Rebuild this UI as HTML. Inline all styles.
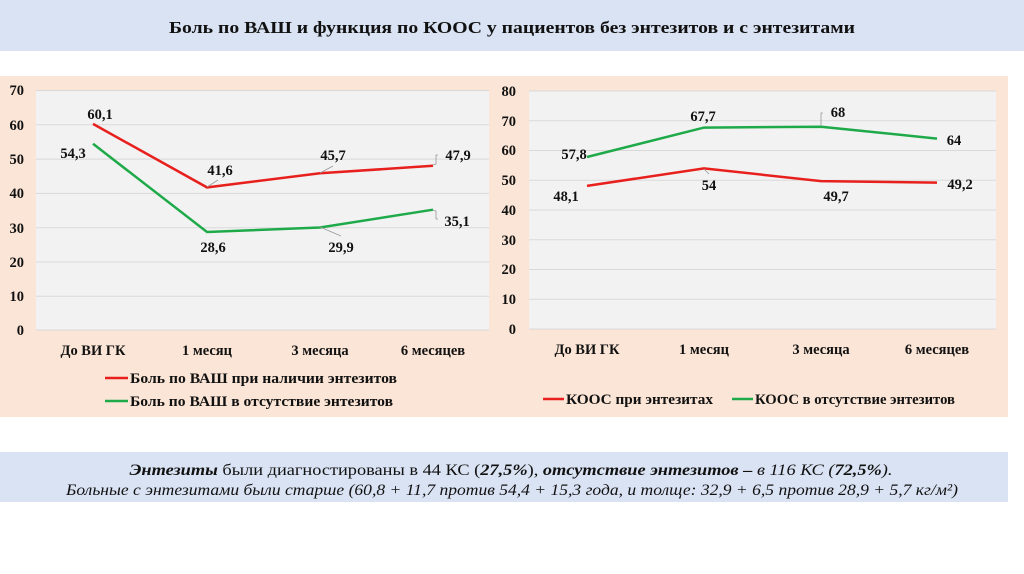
<!DOCTYPE html>
<html><head><meta charset="utf-8"><style>
html,body{margin:0;padding:0;background:#fff;}
svg{display:block;}
text{font-family:"Liberation Serif","Noto Serif CJK SC",serif;font-weight:bold;font-size:14.5px;fill:#111;}
.it{font-style:italic;font-weight:normal;font-size:16px;}
</style></head><body>
<svg width="1024" height="574" viewBox="0 0 1024 574" xmlns="http://www.w3.org/2000/svg">
<rect x="0" y="0" width="1024" height="51" fill="#dae3f3"/>
<text x="512" y="33" text-anchor="middle" style="font-size:17px" textLength="686" lengthAdjust="spacingAndGlyphs">Боль по ВАШ и функция по КООС у пациентов без энтезитов и с энтезитами</text>

<rect x="0" y="76" width="1008" height="341" fill="#fbe5d6"/>
<!-- left plot -->
<rect x="36" y="90" width="453" height="240" fill="#f2f2f2"/>
<g stroke="#d9d9d9" stroke-width="1">
<line x1="36" x2="489" y1="90.5" y2="90.5"/><line x1="36" x2="489" y1="124.8" y2="124.8"/><line x1="36" x2="489" y1="159.1" y2="159.1"/><line x1="36" x2="489" y1="193.4" y2="193.4"/><line x1="36" x2="489" y1="227.7" y2="227.7"/><line x1="36" x2="489" y1="262" y2="262"/><line x1="36" x2="489" y1="296.3" y2="296.3"/><line x1="36" x2="489" y1="330" y2="330"/>
</g>
<g text-anchor="end">
<text x="24" y="95">70</text><text x="24" y="130">60</text><text x="24" y="164">50</text><text x="24" y="198">40</text><text x="24" y="233">30</text><text x="24" y="267">20</text><text x="24" y="301">10</text><text x="24" y="335">0</text>
</g>
<polyline points="93,123.9 207,187.4 320,173.3 433,165.8" fill="none" stroke="#e8201d" stroke-width="2.5"/>
<polyline points="93,143.8 207,232 320,227.5 433,209.7" fill="none" stroke="#1faa4a" stroke-width="2.5"/>
<g stroke="#999" stroke-width="0.8" fill="none">
<polyline points="207,187 218,180"/><polyline points="320,173 333,166"/><polyline points="433,165 436,164 436,155 438,155"/><polyline points="433,210 436,211 436,219 438,219"/><polyline points="320,227 341,236"/>
</g>
<g text-anchor="middle">
<text x="100" y="119">60,1</text><text x="73" y="158">54,3</text><text x="220" y="175">41,6</text><text x="333" y="160">45,7</text><text x="458" y="160">47,9</text><text x="457" y="226">35,1</text><text x="213" y="252">28,6</text><text x="341" y="252">29,9</text>
<text x="93" y="355" textLength="65" lengthAdjust="spacingAndGlyphs">До ВИ ГК</text><text x="207" y="355">1 месяц</text><text x="320" y="355">3 месяца</text><text x="433" y="355">6 месяцев</text>
</g>
<line x1="105" x2="128" y1="378" y2="378" stroke="#e8201d" stroke-width="2.5"/>
<text x="130" y="383" textLength="267" lengthAdjust="spacingAndGlyphs">Боль по ВАШ при наличии энтезитов</text>
<line x1="105" x2="128" y1="401" y2="401" stroke="#1faa4a" stroke-width="2.5"/>
<text x="130" y="406" textLength="263" lengthAdjust="spacingAndGlyphs">Боль по ВАШ в отсутствие энтезитов</text>

<!-- right plot -->
<rect x="529" y="91" width="467" height="238" fill="#f2f2f2"/>
<g stroke="#d9d9d9" stroke-width="1">
<line x1="529" x2="996" y1="91" y2="91"/><line x1="529" x2="996" y1="120.8" y2="120.8"/><line x1="529" x2="996" y1="150.5" y2="150.5"/><line x1="529" x2="996" y1="180.3" y2="180.3"/><line x1="529" x2="996" y1="210" y2="210"/><line x1="529" x2="996" y1="239.8" y2="239.8"/><line x1="529" x2="996" y1="269.5" y2="269.5"/><line x1="529" x2="996" y1="299.3" y2="299.3"/><line x1="529" x2="996" y1="329" y2="329"/>
</g>
<g text-anchor="end">
<text x="516" y="96">80</text><text x="516" y="126">70</text><text x="516" y="155">60</text><text x="516" y="185">50</text><text x="516" y="215">40</text><text x="516" y="245">30</text><text x="516" y="274">20</text><text x="516" y="304">10</text><text x="516" y="334">0</text>
</g>
<polyline points="587,185.9 704,168.4 821,181.1 937,182.6" fill="none" stroke="#e8201d" stroke-width="2.5"/>
<polyline points="587,157 704,127.6 821,126.7 937,138.6" fill="none" stroke="#1faa4a" stroke-width="2.5"/>
<polyline points="821,126 821,113 823,113" fill="none" stroke="#999" stroke-width="0.8"/>
<polyline points="704,169 709,174" fill="none" stroke="#999" stroke-width="0.8"/>
<g text-anchor="middle">
<text x="703" y="121">67,7</text><text x="838" y="117">68</text><text x="954" y="145">64</text><text x="574" y="159">57,8</text><text x="566" y="201">48,1</text><text x="709" y="190">54</text><text x="836" y="201">49,7</text><text x="960" y="189">49,2</text>
<text x="587" y="354" textLength="65" lengthAdjust="spacingAndGlyphs">До ВИ ГК</text><text x="704" y="354">1 месяц</text><text x="821" y="354">3 месяца</text><text x="937" y="354">6 месяцев</text>
</g>
<line x1="543" x2="564" y1="399" y2="399" stroke="#e8201d" stroke-width="2.5"/>
<text x="566" y="404" textLength="147" lengthAdjust="spacingAndGlyphs">КООС при энтезитах</text>
<line x1="732" x2="753" y1="399" y2="399" stroke="#1faa4a" stroke-width="2.5"/>
<text x="755" y="404" textLength="200" lengthAdjust="spacingAndGlyphs">КООС в отсутствие энтезитов</text>

<!-- bottom note -->
<rect x="0" y="452" width="1008" height="50" fill="#dae3f3"/>
<text class="it" x="511" y="475" text-anchor="middle" textLength="763" lengthAdjust="spacingAndGlyphs"><tspan style="font-weight:bold;font-style:italic">Энтезиты</tspan><tspan style="font-style:normal"> были диагностированы в 44 КС (</tspan><tspan style="font-weight:bold">27,5%</tspan><tspan style="font-style:normal">), </tspan><tspan style="font-weight:bold">отсутствие энтезитов – </tspan><tspan>в 116 КС (</tspan><tspan style="font-weight:bold">72,5%</tspan><tspan>).</tspan></text>
<text class="it" x="512" y="495" text-anchor="middle" textLength="892" lengthAdjust="spacingAndGlyphs">Больные с энтезитами были старше (60,8 + 11,7 против 54,4 + 15,3 года, и толще: 32,9 + 6,5 против 28,9 + 5,7 кг/м²)</text>
</svg>
</body></html>
